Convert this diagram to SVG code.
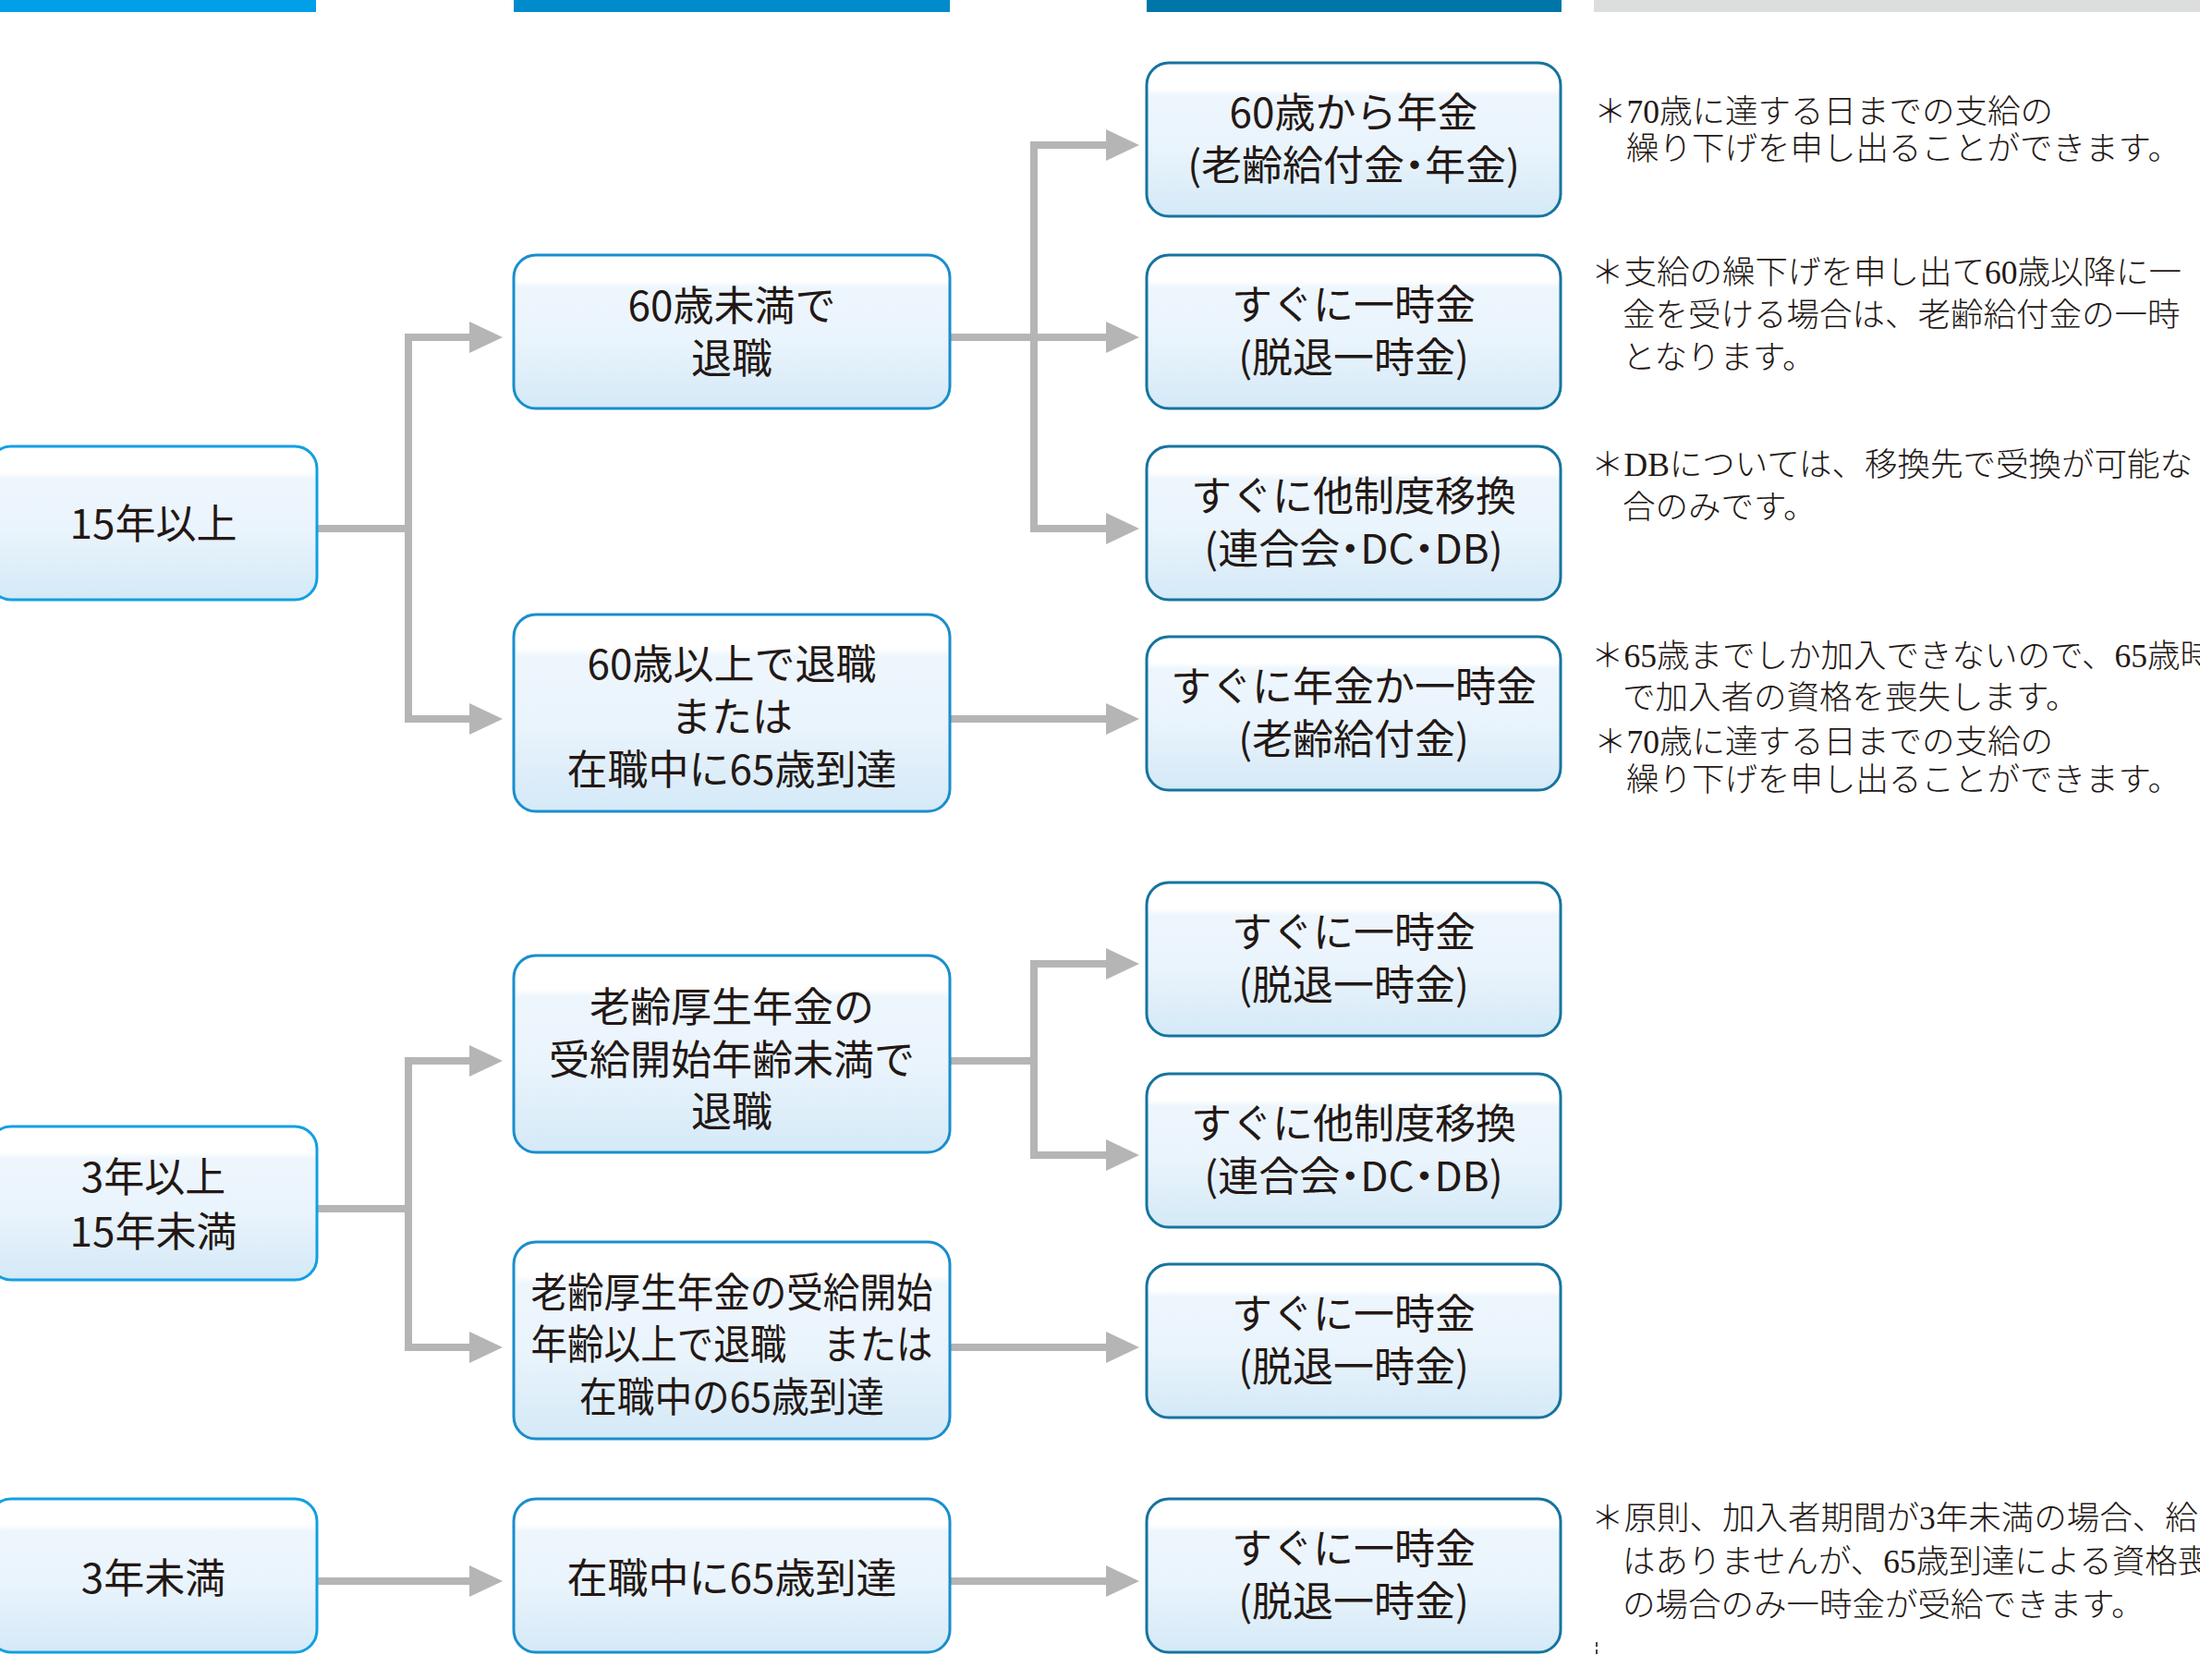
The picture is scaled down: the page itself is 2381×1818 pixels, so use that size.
<svg xmlns="http://www.w3.org/2000/svg" width="2381" height="1818" viewBox="0 0 2381 1818">
<style>
.box1{stroke:#12a0e2;stroke-width:3;fill:url(#g)}
.box2{stroke:#1a8ecd;stroke-width:3;fill:url(#g)}
.box3{stroke:#16749f;stroke-width:3;fill:url(#g)}
.t{font-family:"Noto Sans CJK JP","Noto Sans",sans-serif;font-size:44px;fill:#231815;text-anchor:middle}
.p{font-feature-settings:"palt"}
.n{font-family:"Liberation Serif","Noto Sans CJK JP",serif;font-size:35.5px;fill:#231815;font-weight:300}
.c{fill:none;stroke:#b5b5b5;stroke-width:8;stroke-linejoin:miter}
.a{marker-end:url(#arr)}
</style>
<defs>
<linearGradient id="g" x1="0" y1="0" x2="0" y2="1">
<stop offset="0" stop-color="#ffffff"/>
<stop offset="0.17" stop-color="#ffffff"/>
<stop offset="0.21" stop-color="#eef6fd"/>
<stop offset="0.55" stop-color="#eaf4fc"/>
<stop offset="1" stop-color="#d4e9f7"/>
</linearGradient>
<marker id="arr" markerUnits="userSpaceOnUse" markerWidth="40" markerHeight="40" refX="6" refY="18" orient="auto">
<path d="M0,1 L36,18 L0,35 Z" fill="#b5b5b5"/>
</marker>
</defs>

<g id="header-bars">
<rect x="0" y="0" width="342" height="13" fill="#00a0e9"/>
<rect x="556" y="0" width="472" height="13" fill="#008ccb"/>
<rect x="1241" y="0" width="449" height="13" fill="#0075a8"/>
<rect x="1725" y="0" width="656" height="13" fill="#dcdddd"/>
</g>

<g id="connectors">
<path class="c" d="M343,572 H442"/>
<path class="c a" d="M442,572 V365 H514"/>
<path class="c a" d="M442,572 V778 H514"/>
<path class="c" d="M1028,365 H1119"/>
<path class="c a" d="M1119,365 V157 H1203"/>
<path class="c a" d="M1119,365 H1203"/>
<path class="c a" d="M1119,365 V572 H1203"/>
<path class="c a" d="M1028,778 H1203"/>
<path class="c" d="M343,1308 H442"/>
<path class="c a" d="M442,1308 V1148 H514"/>
<path class="c a" d="M442,1308 V1458 H514"/>
<path class="c" d="M1028,1148 H1119"/>
<path class="c a" d="M1119,1148 V1043 H1203"/>
<path class="c a" d="M1119,1148 V1250 H1203"/>
<path class="c a" d="M1028,1458 H1203"/>
<path class="c a" d="M343,1711 H514"/>
<path class="c a" d="M1028,1711 H1203"/>
</g>

<g id="n-15over">
<rect class="box1" x="-12" y="483" width="355" height="166" rx="24"/>
<text class="t" x="166" y="583">15年以上</text>
</g>
<g id="n-3to15">
<rect class="box1" x="-12" y="1219" width="355" height="166" rx="24"/>
<text class="t" x="166" y="1290">3年以上</text>
<text class="t" x="166" y="1349">15年未満</text>
</g>
<g id="n-under3">
<rect class="box1" x="-12" y="1622" width="355" height="166" rx="24"/>
<text class="t" x="166" y="1724">3年未満</text>
</g>

<g id="n-under60">
<rect class="box2" x="556" y="276" width="472" height="166" rx="24"/>
<text class="t" x="792" y="347">60歳未満で</text>
<text class="t" x="792" y="404">退職</text>
</g>
<g id="n-over60">
<rect class="box2" x="556" y="665" width="472" height="213" rx="24"/>
<text class="t" x="792" y="735">60歳以上で退職</text>
<text class="t" x="792" y="792">または</text>
<text class="t" x="792" y="849">在職中に65歳到達</text>
</g>
<g id="n-before-pension-age">
<rect class="box2" x="556" y="1034" width="472" height="213" rx="24"/>
<text class="t" x="792" y="1106">老齢厚生年金の</text>
<text class="t" x="792" y="1163">受給開始年齢未満で</text>
<text class="t" x="792" y="1219">退職</text>
</g>
<g id="n-after-pension-age">
<rect class="box2" x="556" y="1344" width="472" height="213" rx="24"/>
<text class="t" x="792" y="1415" textLength="435" lengthAdjust="spacingAndGlyphs">老齢厚生年金の受給開始</text>
<text class="t" x="792" y="1471" textLength="435" lengthAdjust="spacingAndGlyphs">年齢以上で退職　または</text>
<text class="t" x="792" y="1528" textLength="330" lengthAdjust="spacingAndGlyphs">在職中の65歳到達</text>
</g>
<g id="n-65-in-service">
<rect class="box2" x="556" y="1622" width="472" height="166" rx="24"/>
<text class="t" x="792" y="1724">在職中に65歳到達</text>
</g>

<g id="r-pension60">
<rect class="box3" x="1241" y="68" width="448" height="166" rx="24"/>
<text class="t" x="1465" y="138">60歳から年金</text>
<text class="t p" x="1465" y="195">(老齢給付金・年金)</text>
</g>
<g id="r-lump1">
<rect class="box3" x="1241" y="276" width="448" height="166" rx="24"/>
<text class="t" x="1465" y="346">すぐに一時金</text>
<text class="t" x="1465" y="403">(脱退一時金)</text>
</g>
<g id="r-transfer1">
<rect class="box3" x="1241" y="483" width="448" height="166" rx="24"/>
<text class="t" x="1465" y="553">すぐに他制度移換</text>
<text class="t p" x="1465" y="610">(連合会・DC・DB)</text>
</g>
<g id="r-pension-or-lump">
<rect class="box3" x="1241" y="689" width="448" height="166" rx="24"/>
<text class="t" x="1465" y="759">すぐに年金か一時金</text>
<text class="t" x="1465" y="816">(老齢給付金)</text>
</g>
<g id="r-lump2">
<rect class="box3" x="1241" y="955" width="448" height="166" rx="24"/>
<text class="t" x="1465" y="1025">すぐに一時金</text>
<text class="t" x="1465" y="1082">(脱退一時金)</text>
</g>
<g id="r-transfer2">
<rect class="box3" x="1241" y="1162" width="448" height="166" rx="24"/>
<text class="t" x="1465" y="1232">すぐに他制度移換</text>
<text class="t p" x="1465" y="1289">(連合会・DC・DB)</text>
</g>
<g id="r-lump3">
<rect class="box3" x="1241" y="1368" width="448" height="166" rx="24"/>
<text class="t" x="1465" y="1438">すぐに一時金</text>
<text class="t" x="1465" y="1495">(脱退一時金)</text>
</g>
<g id="r-lump4">
<rect class="box3" x="1241" y="1622" width="448" height="166" rx="24"/>
<text class="t" x="1465" y="1692">すぐに一時金</text>
<text class="t" x="1465" y="1749">(脱退一時金)</text>
</g>

<g id="notes">
<text class="n" x="1725" y="133">＊70歳に達する日までの支給の</text>
<text class="n" x="1760" y="173">繰り下げを申し出ることができます。</text>

<text class="n" x="1722" y="307">＊支給の繰下げを申し出て60歳以降に一</text>
<text class="n" x="1756" y="353">金を受ける場合は、老齢給付金の一時</text>
<text class="n" x="1756" y="399">となります。</text>

<text class="n" x="1722" y="515">＊DBについては、移換先で受換が可能な</text>
<text class="n" x="1756" y="561">合のみです。</text>

<text class="n" x="1722" y="722">＊65歳までしか加入できないので、65歳時</text>
<text class="n" x="1756" y="767">で加入者の資格を喪失します。</text>
<text class="n" x="1725" y="815">＊70歳に達する日までの支給の</text>
<text class="n" x="1760" y="856">繰り下げを申し出ることができます。</text>

<text class="n" x="1722" y="1655">＊原則、加入者期間が3年未満の場合、給</text>
<text class="n" x="1756" y="1702">はありませんが、65歳到達による資格喪</text>
<text class="n" x="1756" y="1749">の場合のみ一時金が受給できます。</text>
<path d="M1728,1777 V1782 M1728,1785 V1790" stroke="#444" stroke-width="2"/>
</g>
</svg>
